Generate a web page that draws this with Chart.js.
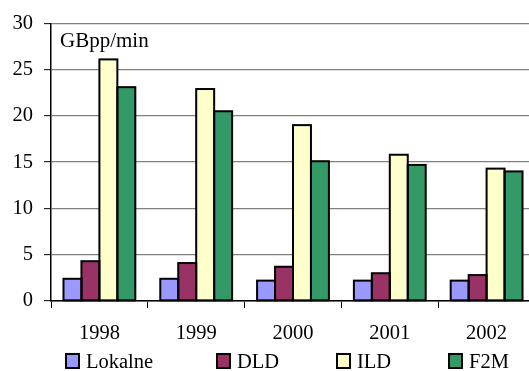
<!DOCTYPE html>
<html>
<head>
<meta charset="utf-8">
<script src="https://cdn.jsdelivr.net/npm/chart.js@4/dist/chart.umd.min.js"></script>
<style>
  html, body { margin: 0; padding: 0; background: #fff; overflow: hidden; }
  #wrap { position: relative; width: 536px; height: 371px; }
</style>
</head>
<body>
<div id="wrap"><canvas id="c"></canvas></div>
<script>
// Years on the category axis
const years = ['1998', '1999', '2000', '2001', '2002'];
// Traffic per segment, GBpp/min
const lokalne = [2.4, 2.4, 2.2, 2.2, 2.2];
const dld     = [4.3, 4.1, 3.7, 3.0, 2.8];
const ild     = [26.1, 22.9, 19.0, 15.8, 14.3];
const f2m     = [23.1, 20.5, 15.1, 14.7, 14.0];
const seriesNames = ['Lokalne', 'DLD', 'ILD', 'F2M'];
const unitLabel = 'GBpp/min';

const FONT = 'Liberation Serif';
const colors = ['#9999FF', '#993366', '#FFFFCC', '#339966'];

// Black outline around every bar, taken from the bar elements' own geometry
const barOutline = {
  id: 'barOutline',
  afterDatasetsDraw(chart) {
    const ctx = chart.ctx;
    ctx.save();
    ctx.lineWidth = 2;
    ctx.strokeStyle = '#000';
    chart.data.datasets.forEach((ds, i) => {
      chart.getDatasetMeta(i).data.forEach(bar => {
        const { x, y, base, width } = bar.getProps(['x', 'y', 'base', 'width'], true);
        ctx.strokeRect(x - width / 2, y, width, base - y);
      });
    });
    ctx.restore();
  }
};

// Unit caption inside the plot and the legend row along the bottom
const extras = {
  id: 'extras',
  afterDraw(chart) {
    const ctx = chart.ctx;
    const area = chart.chartArea;
    ctx.save();
    ctx.fillStyle = '#000';
    ctx.font = '21px "Liberation Serif"';
    ctx.textBaseline = 'alphabetic';
    ctx.textAlign = 'left';
    ctx.fillText(unitLabel, area.left + 9, 47);

    const lefts = [66, 217, 337, 449];
    ctx.font = '20.5px "Liberation Serif"';
    chart.data.datasets.forEach((ds, i) => {
      const x = lefts[i];
      ctx.fillStyle = ds.backgroundColor;
      ctx.fillRect(x, 354, 13, 14);
      ctx.lineWidth = 2;
      ctx.strokeStyle = '#000';
      ctx.strokeRect(x, 354, 13, 14);
      ctx.fillStyle = '#000';
      ctx.fillText(ds.label, x + 20, 367.5);
    });
    ctx.restore();
  }
};

const data = {
  labels: years,
  datasets: [lokalne, dld, ild, f2m].map((vals, i) => ({
    label: seriesNames[i],
    data: vals,
    backgroundColor: colors[i],
    borderWidth: 0,
    inflateAmount: 0,
    barPercentage: 1.0,
    categoryPercentage: 0.742
  }))
};

new Chart(document.getElementById('c'), {
  type: 'bar',
  data,
  plugins: [barOutline, extras],
  options: {
    responsive: true,
    maintainAspectRatio: false,
    animation: false,
    devicePixelRatio: 1,
    layout: { padding: { top: 23, right: 1, left: 0, bottom: 0 } },
    plugins: {
      legend: { display: false },
      tooltip: { enabled: false }
    },
    scales: {
      x: {
        offset: true,
        afterFit(scale) { scale.height = 70; },
        grid: {
          display: true,
          offset: true,
          drawOnChartArea: false,
          drawTicks: true,
          tickLength: 7,
          tickColor: '#000',
          tickWidth: 1
        },
        border: { display: true, color: '#000', width: 1.5 },
        ticks: {
          color: '#000',
          font: { family: FONT, size: 20.5 },
          padding: 13,
          maxRotation: 0
        }
      },
      y: {
        min: 0,
        max: 30,
        afterFit(scale) { scale.width = 51; },
        grid: {
          color: '#808080',
          lineWidth: 1.3,
          drawTicks: true,
          tickLength: 7,
          tickColor: '#000',
          tickWidth: 1
        },
        border: { display: true, color: '#000', width: 1.5 },
        ticks: {
          stepSize: 5,
          color: '#000',
          font: { family: FONT, size: 20.5 },
          padding: 11
        }
      }
    }
  }
});
</script>
</body>
</html>
